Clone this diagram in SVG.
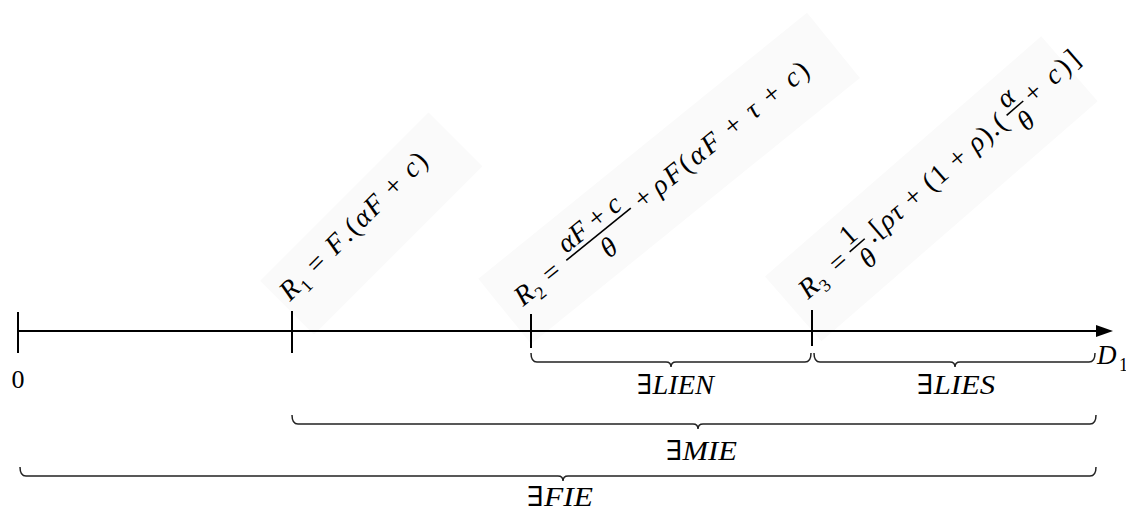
<svg xmlns="http://www.w3.org/2000/svg" width="1126" height="511" viewBox="0 0 1126 511">
  <style>
    text { font-family: "Liberation Serif", "DejaVu Serif", serif; fill: #000; }
    .f { font-size: 28px; }
    .i { font-style: italic; }
    .sub { font-size: 18px; font-style: normal; }
    .mid { text-anchor: middle; }
    .lbl { font-size: 27px; }
    .bg { fill: #fafafa; }
    .axis { stroke: #000; stroke-width: 2; fill: none; }
    .brace { stroke: #222; stroke-width: 1.5; fill: none; }
    .bar { stroke: #000; stroke-width: 1.6; }
  </style>

  <rect width="1126" height="511" fill="#fff"/>

  <!-- R1 formula -->
  <g id="r1" transform="translate(290,302) rotate(-45)">
    <rect class="bg" x="-6" y="-36" width="238" height="76"/>
    <text class="f" x="0" y="0" textLength="197" lengthAdjust="spacing"><tspan class="i">R</tspan><tspan class="sub" dy="6">1</tspan><tspan dy="-6"> = </tspan><tspan class="i">F</tspan>.(<tspan class="i">αF</tspan> + <tspan class="i">c</tspan>)</text>
  </g>

  <!-- R2 formula -->
  <g id="r2" transform="translate(523,307) rotate(-39)">
    <rect class="bg" x="-17" y="-50" width="423" height="84"/>
    <text class="f i" x="0" y="0">R</text>
    <text class="sub" x="18" y="6">2</text>
    <text class="f mid" x="44" y="0">=</text>
    <text class="f mid" x="104" y="-14"><tspan class="i">αF</tspan> + <tspan class="i">c</tspan></text>
    <line class="bar" x1="63" y1="-9" x2="146" y2="-9"/>
    <text class="f mid i" x="104" y="17">θ</text>
    <text class="f mid" x="162" y="0">+</text>
    <text class="f" x="176" y="0" textLength="195" lengthAdjust="spacing"><tspan class="i">ρF</tspan>(<tspan class="i">αF</tspan> + <tspan class="i">τ</tspan> + <tspan class="i">c</tspan>)</text>
  </g>

  <!-- R3 formula -->
  <g id="r3" transform="translate(808,300) rotate(-41)">
    <rect class="bg" x="-17" y="-46" width="366" height="86"/>
    <text class="f i" x="0" y="0">R</text>
    <text class="sub" x="18" y="6">3</text>
    <text class="f mid" x="48" y="0">=</text>
    <text class="f mid" x="73" y="-14">1</text>
    <line class="bar" x1="63" y1="-9" x2="83" y2="-9"/>
    <text class="f mid i" x="73" y="17">θ</text>
    <text class="f" x="86" y="0">.</text>
    <text class="f" x="94" y="0" textLength="172" lengthAdjust="spacing">[<tspan class="i">ρτ</tspan> + (1 + <tspan class="i">ρ</tspan>).(</text>
    <text class="f mid i" x="282" y="-14">α</text>
    <line class="bar" x1="271" y1="-9" x2="293" y2="-9"/>
    <text class="f mid i" x="282" y="17">θ</text>
    <text class="f" x="298" y="0" textLength="65" lengthAdjust="spacing">+ <tspan class="i">c</tspan>)]</text>
  </g>

  <!-- time axis with ticks -->
  <g id="axis">
    <line class="axis" x1="18" y1="331" x2="1100" y2="331"/>
    <polygon points="1096,325 1113,331 1096,337" fill="#000"/>
    <line class="axis" x1="18" y1="312" x2="18" y2="353"/>
    <line class="axis" x1="292" y1="311" x2="292" y2="353"/>
    <line class="axis" x1="531" y1="314" x2="531" y2="348"/>
    <line class="axis" x1="812" y1="310" x2="812" y2="346"/>
    <text x="18" y="388" font-size="26" text-anchor="middle">0</text>
    <text x="1097" y="364" font-size="27" font-style="italic">D</text>
    <text class="sub" x="1119" y="371">1</text>
  </g>

  <!-- interval braces -->
  <g id="connectors">
    <path class="brace" d="M531,353 Q531,362 537,362 L666,362 Q671,362 671,367 Q671,362 676,362 L805,362 Q811,362 811,353"/>
    <path class="brace" d="M814,353 Q814,362 820,362 L950,362 Q955,362 955,367 Q955,362 960,362 L1089,362 Q1095,362 1095,353"/>
    <path class="brace" d="M292,415 Q292,424 298,424 L693,424 Q698,424 698,429 Q698,424 703,424 L1090,424 Q1096,424 1096,415"/>
    <path class="brace" d="M20,467 Q20,476 26,476 L558,476 Q563,476 563,481 Q563,476 568,476 L1090,476 Q1096,476 1096,467"/>
  </g>

  <!-- interval labels -->
  <g id="lien"><text class="lbl" x="637" y="394" textLength="77" lengthAdjust="spacingAndGlyphs">∃<tspan class="i">LIEN</tspan></text></g>
  <g id="lies"><text class="lbl" x="917" y="394" textLength="78" lengthAdjust="spacingAndGlyphs">∃<tspan class="i">LIES</tspan></text></g>
  <g id="mie"><text class="lbl" x="666" y="460" textLength="71" lengthAdjust="spacingAndGlyphs">∃<tspan class="i">MIE</tspan></text></g>
  <g id="fie"><text class="lbl" x="527" y="506" textLength="66" lengthAdjust="spacingAndGlyphs">∃<tspan class="i">FIE</tspan></text></g>
</svg>
